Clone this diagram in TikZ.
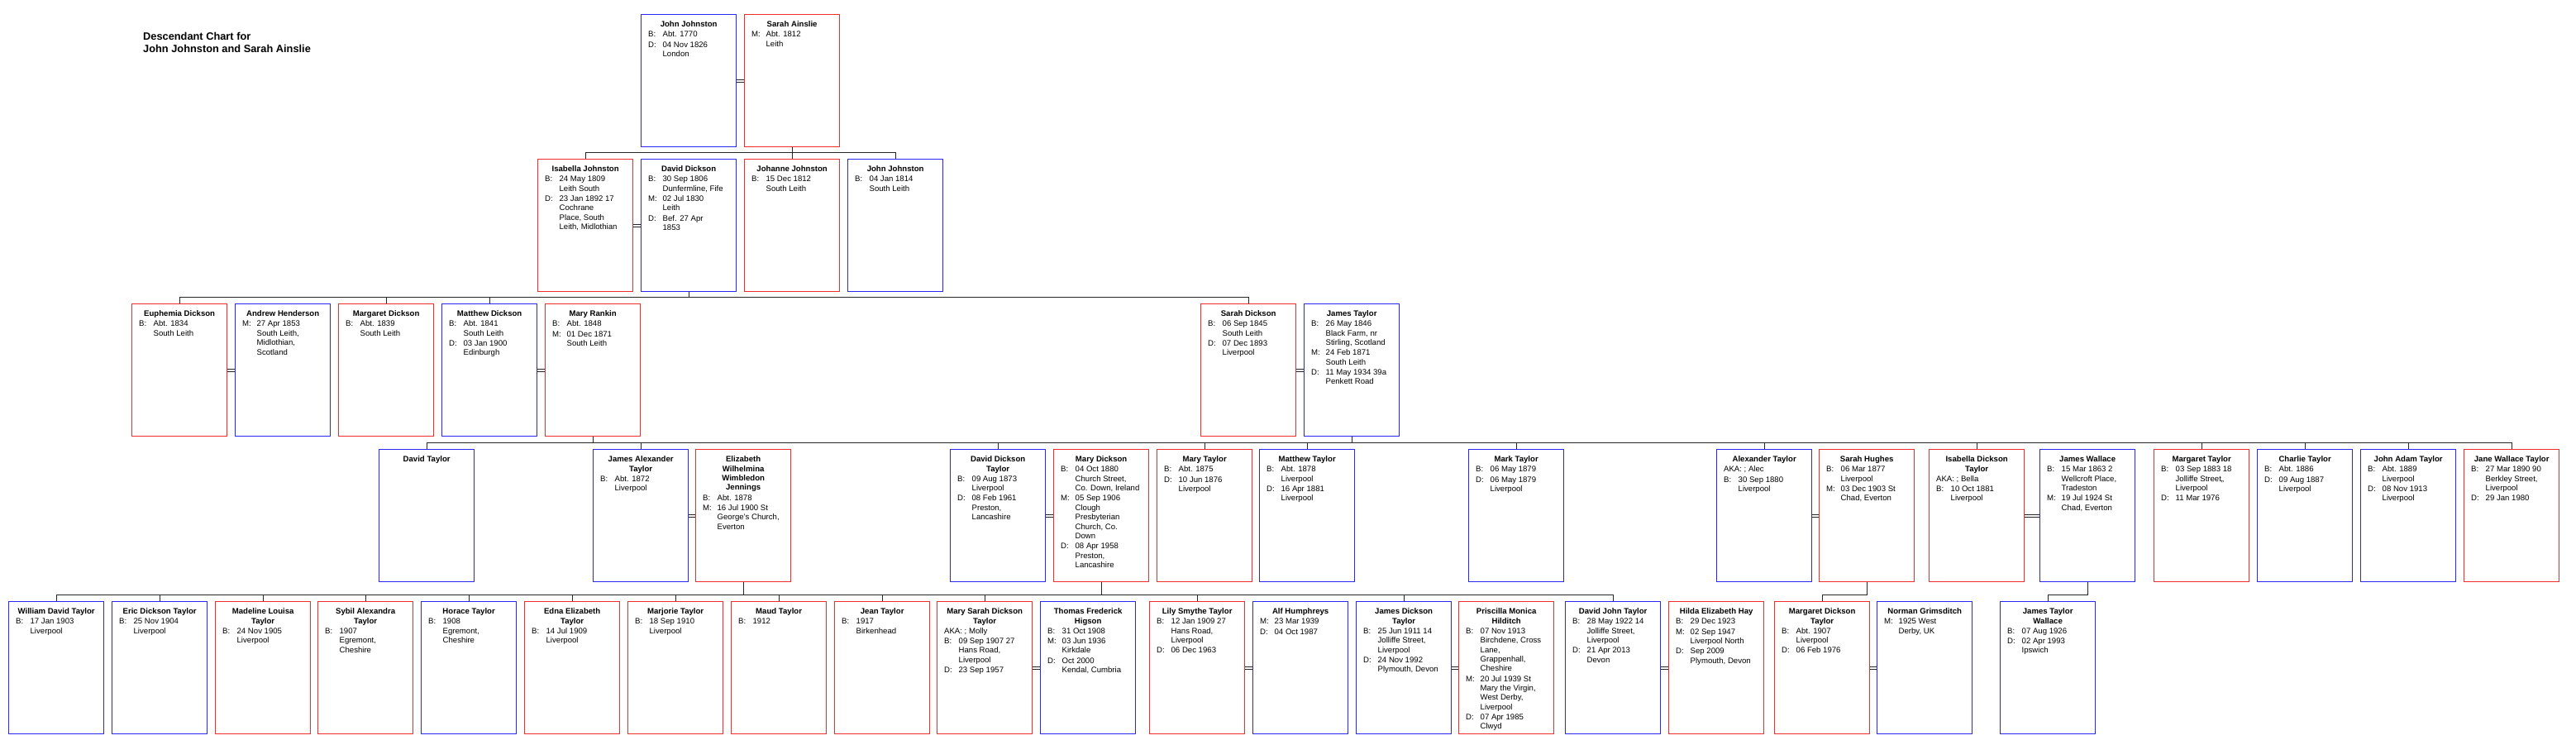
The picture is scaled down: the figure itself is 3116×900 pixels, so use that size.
\documentclass[tikz,border=0pt]{standalone}
\usepackage{fontspec}
\setmainfont{Liberation Sans}
\usepackage{xcolor}
\usepackage{tikz}
\definecolor{boxblue}{RGB}{40,40,240}
\definecolor{boxred}{RGB}{240,45,45}
\newcommand{\cardfont}{\fontsize{9.6pt}{11.4pt}\selectfont}
\newcommand{\card}[2]{%
  \begin{minipage}[t][160pt][t]{109pt}
    {\centering\bfseries\rule{0pt}{15pt}#1\par}
    \raggedright #2
  \end{minipage}}
\newcommand{\fact}[2]{\par\vspace{0.8pt}\noindent\hangindent=23pt\hangafter=1%
  \makebox[23pt][l]{\hspace{5.5pt}#1}#2}
\newcommand{\aka}[1]{\par\vspace{0.8pt}\noindent\hspace{5.5pt}AKA: #1}

\begin{document}
\begin{tikzpicture}[
  x=1pt, y=-1pt,
  man/.style={rectangle, draw=boxblue, line width=1.3pt,
    anchor=north west, inner xsep=3pt, inner ysep=0pt, font=\cardfont},
  woman/.style={man, draw=boxred},
  kin/.style={line width=1pt, black!85},
  tie/.style={line width=0.8pt, black!85}
]
\useasboundingbox (0,0) rectangle (3116,900);

% Title
\node[anchor=north west, inner sep=0pt, align=left,
      font=\fontsize{12.8pt}{15pt}\selectfont\bfseries] (title)
  at (173,39) {Descendant Chart for\\John Johnston and Sarah Ainslie};

% Generation 1
\node[man] (jjohnston) at (775,17)
  {\card{John Johnston}{\fact{B:}{Abt. 1770}\fact{D:}{04 Nov 1826\newline London}}};
\node[woman] (sainslie) at (900,17)
  {\card{Sarah Ainslie}{\fact{M:}{Abt. 1812\newline Leith}}};

% Generation 2
\node[woman] (ijohnston) at (650,192)
  {\card{Isabella Johnston}{\fact{B:}{24 May 1809\newline Leith South}
   \fact{D:}{23 Jan 1892 17\newline Cochrane\newline Place, South\newline Leith, Midlothian}}};
\node[man] (ddickson) at (775,192)
  {\card{David Dickson}{\fact{B:}{30 Sep 1806\newline Dunfermline, Fife}
   \fact{M:}{02 Jul 1830\newline Leith}\fact{D:}{Bef. 27 Apr\newline 1853}}};
\node[woman] (johanne) at (900,192)
  {\card{Johanne Johnston}{\fact{B:}{15 Dec 1812\newline South Leith}}};
\node[man] (jjohnstonjr) at (1025,192)
  {\card{John Johnston}{\fact{B:}{04 Jan 1814\newline South Leith}}};

% Generation 3
\node[woman] (euphemia) at (159,367)
  {\card{Euphemia Dickson}{\fact{B:}{Abt. 1834\newline South Leith}}};
\node[man] (ahenderson) at (284,367)
  {\card{Andrew Henderson}{\fact{M:}{27 Apr 1853\newline South Leith,\newline Midlothian,\newline Scotland}}};
\node[woman] (margaretd) at (409,367)
  {\card{Margaret Dickson}{\fact{B:}{Abt. 1839\newline South Leith}}};
\node[man] (matthewd) at (534,367)
  {\card{Matthew Dickson}{\fact{B:}{Abt. 1841\newline South Leith}
   \fact{D:}{03 Jan 1900\newline Edinburgh}}};
\node[woman] (mrankin) at (659,367)
  {\card{Mary Rankin}{\fact{B:}{Abt. 1848}\fact{M:}{01 Dec 1871\newline South Leith}}};
\node[woman] (sarahd) at (1452,367)
  {\card{Sarah Dickson}{\fact{B:}{06 Sep 1845\newline South Leith}
   \fact{D:}{07 Dec 1893\newline Liverpool}}};
\node[man] (jamest) at (1577,367)
  {\card{James Taylor}{\fact{B:}{26 May 1846\newline Black Farm, nr\newline Stirling, Scotland}
   \fact{M:}{24 Feb 1871\newline South Leith}\fact{D:}{11 May 1934 39a\newline Penkett Road}}};

% Generation 4
\node[man] (davidt) at (458,543) {\card{David Taylor}{}};
\node[man] (jamesat) at (717,543)
  {\card{James Alexander\\Taylor}{\fact{B:}{Abt. 1872\newline Liverpool}}};
\node[woman] (ejennings) at (841,543)
  {\card{Elizabeth\\Wilhelmina\\Wimbledon\\Jennings}{\fact{B:}{Abt. 1878}
   \fact{M:}{16 Jul 1900 St\newline George's Church,\newline Everton}}};
\node[man] (ddtaylor) at (1149,543)
  {\card{David Dickson\\Taylor}{\fact{B:}{09 Aug 1873\newline Liverpool}
   \fact{D:}{08 Feb 1961\newline Preston,\newline Lancashire}}};
\node[woman] (marydickson) at (1274,543)
  {\card{Mary Dickson}{\fact{B:}{04 Oct 1880\newline Church Street,\newline Co. Down, Ireland}
   \fact{M:}{05 Sep 1906\newline Clough\newline Presbyterian\newline Church, Co.\newline Down}
   \fact{D:}{08 Apr 1958\newline Preston,\newline Lancashire}}};
\node[woman] (maryt) at (1399,543)
  {\card{Mary Taylor}{\fact{B:}{Abt. 1875}\fact{D:}{10 Jun 1876\newline Liverpool}}};
\node[man] (matthewt) at (1523,543)
  {\card{Matthew Taylor}{\fact{B:}{Abt. 1878\newline Liverpool}
   \fact{D:}{16 Apr 1881\newline Liverpool}}};
\node[man] (markt) at (1776,543)
  {\card{Mark Taylor}{\fact{B:}{06 May 1879}\fact{D:}{06 May 1879\newline Liverpool}}};
\node[man] (alext) at (2076,543)
  {\card{Alexander Taylor}{\aka{; Alec}\fact{B:}{30 Sep 1880\newline Liverpool}}};
\node[woman] (shughes) at (2200,543)
  {\card{Sarah Hughes}{\fact{B:}{06 Mar 1877\newline Liverpool}
   \fact{M:}{03 Dec 1903 St\newline Chad, Everton}}};
\node[woman] (idtaylor) at (2333,543)
  {\card{Isabella Dickson\\Taylor}{\aka{; Bella}\fact{B:}{10 Oct 1881\newline Liverpool}}};
\node[man] (jwallace) at (2467,543)
  {\card{James Wallace}{\fact{B:}{15 Mar 1863 2\newline Wellcroft Place,\newline Tradeston}
   \fact{M:}{19 Jul 1924 St\newline Chad, Everton}}};
\node[woman] (margarett) at (2605,543)
  {\card{Margaret Taylor}{\fact{B:}{03 Sep 1883 18\newline Jolliffe Street,,\newline Liverpool}
   \fact{D:}{11 Mar 1976}}};
\node[man] (charliet) at (2730,543)
  {\card{Charlie Taylor}{\fact{B:}{Abt. 1886}\fact{D:}{09 Aug 1887\newline Liverpool}}};
\node[man] (johnat) at (2855,543)
  {\card{John Adam Taylor}{\fact{B:}{Abt. 1889\newline Liverpool}
   \fact{D:}{08 Nov 1913\newline Liverpool}}};
\node[woman] (janewt) at (2980,543)
  {\card{Jane Wallace Taylor}{\fact{B:}{27 Mar 1890 90\newline Berkley Street,\newline Liverpool}
   \fact{D:}{29 Jan 1980}}};

% Generation 5
\node[man] (wdtaylor) at (10,727)
  {\card{William David Taylor}{\fact{B:}{17 Jan 1903\newline Liverpool}}};
\node[man] (edtaylor) at (135,727)
  {\card{Eric Dickson Taylor}{\fact{B:}{25 Nov 1904\newline Liverpool}}};
\node[woman] (mltaylor) at (260,727)
  {\card{Madeline Louisa\\Taylor}{\fact{B:}{24 Nov 1905\newline Liverpool}}};
\node[woman] (sataylor) at (384,727)
  {\card{Sybil Alexandra\\Taylor}{\fact{B:}{1907\newline Egremont,\newline Cheshire}}};
\node[man] (horacet) at (509,727)
  {\card{Horace Taylor}{\fact{B:}{1908\newline Egremont,\newline Cheshire}}};
\node[woman] (eetaylor) at (634,727)
  {\card{Edna Elizabeth\\Taylor}{\fact{B:}{14 Jul 1909\newline Liverpool}}};
\node[woman] (marjoriet) at (759,727)
  {\card{Marjorie Taylor}{\fact{B:}{18 Sep 1910\newline Liverpool}}};
\node[woman] (maudt) at (884,727)
  {\card{Maud Taylor}{\fact{B:}{1912}}};
\node[woman] (jeant) at (1009,727)
  {\card{Jean Taylor}{\fact{B:}{1917\newline Birkenhead}}};
\node[woman] (msdtaylor) at (1133,727)
  {\card{Mary Sarah Dickson\\Taylor}{\aka{; Molly}
   \fact{B:}{09 Sep 1907 27\newline Hans Road,\newline Liverpool}\fact{D:}{23 Sep 1957}}};
\node[man] (tfhigson) at (1258,727)
  {\card{Thomas Frederick\\Higson}{\fact{B:}{31 Oct 1908}
   \fact{M:}{03 Jun 1936\newline Kirkdale}\fact{D:}{Oct 2000\newline Kendal, Cumbria}}};
\node[woman] (lstaylor) at (1390,727)
  {\card{Lily Smythe Taylor}{\fact{B:}{12 Jan 1909 27\newline Hans Road,\newline Liverpool}
   \fact{D:}{06 Dec 1963}}};
\node[man] (ahumphreys) at (1515,727)
  {\card{Alf Humphreys}{\fact{M:}{23 Mar 1939}\fact{D:}{04 Oct 1987}}};
\node[man] (jdtaylor) at (1640,727)
  {\card{James Dickson\\Taylor}{\fact{B:}{25 Jun 1911 14\newline Jolliffe Street,\newline Liverpool}
   \fact{D:}{24 Nov 1992\newline Plymouth, Devon}}};
\node[woman] (pmhilditch) at (1764,727)
  {\card{Priscilla Monica\\Hilditch}{\fact{B:}{07 Nov 1913\newline Birchdene, Cross\newline Lane,\newline Grappenhall,\newline Cheshire}
   \fact{M:}{20 Jul 1939 St\newline Mary the Virgin,\newline West Derby,\newline Liverpool}
   \fact{D:}{07 Apr 1985\newline Clwyd}}};
\node[man] (djtaylor) at (1893,727)
  {\card{David John Taylor}{\fact{B:}{28 May 1922 14\newline Jolliffe Street,\newline Liverpool}
   \fact{D:}{21 Apr 2013\newline Devon}}};
\node[woman] (ehay) at (2018,727)
  {\card{Hilda Elizabeth Hay}{\fact{B:}{29 Dec 1923}
   \fact{M:}{02 Sep 1947\newline Liverpool North}\fact{D:}{Sep 2009\newline Plymouth, Devon}}};
\node[woman] (mdtaylor) at (2146,727)
  {\card{Margaret Dickson\\Taylor}{\fact{B:}{Abt. 1907\newline Liverpool}\fact{D:}{06 Feb 1976}}};
\node[man] (ngrimsditch) at (2270,727)
  {\card{Norman Grimsditch}{\fact{M:}{1925 West\newline Derby, UK}}};
\node[man] (jtwallace) at (2419,727)
  {\card{James Taylor\\Wallace}{\fact{B:}{07 Aug 1926}\fact{D:}{02 Apr 1993\newline Ipswich}}};

% Marriages
\foreach \a/\b in {jjohnston/sainslie, ijohnston/ddickson, euphemia/ahenderson,
    matthewd/mrankin, sarahd/jamest, jamesat/ejennings, ddtaylor/marydickson,
    alext/shughes, idtaylor/jwallace, msdtaylor/tfhigson, lstaylor/ahumphreys,
    jdtaylor/pmhilditch, djtaylor/ehay, mdtaylor/ngrimsditch} {
  \draw[tie] ([yshift=1.6pt]\a.east) -- ([yshift=1.6pt]\b.west);
  \draw[tie] ([yshift=-1.6pt]\a.east) -- ([yshift=-1.6pt]\b.west);
}

% Family bars
\coordinate (bar1) at (0,184);
\coordinate (bar2) at (0,359);
\coordinate (bar3) at (0,535);
\coordinate (bar4) at (0,719);

% Generation 1 -> 2
\draw[kin] (sainslie.south) -- (sainslie.south |- bar1);
\draw[kin] (ijohnston.north |- bar1) -- (jjohnstonjr.north |- bar1);
\foreach \kid in {ijohnston, johanne, jjohnstonjr}
  \draw[kin] (\kid.north) -- (\kid.north |- bar1);

% Generation 2 -> 3
\draw[kin] (ddickson.south) -- (ddickson.south |- bar2);
\draw[kin] (euphemia.north |- bar2) -- (sarahd.north |- bar2);
\foreach \kid in {euphemia, margaretd, matthewd, sarahd}
  \draw[kin] (\kid.north) -- (\kid.north |- bar2);

% Generation 3 -> 4
\draw[kin] (mrankin.south) -- (mrankin.south |- bar3);
\draw[kin] (jamest.south) -- (jamest.south |- bar3);
\draw[kin] (davidt.north |- bar3) -- (janewt.north |- bar3);
\foreach \kid in {davidt, jamesat, ddtaylor, maryt, matthewt, markt, alext,
    idtaylor, margarett, charliet, johnat, janewt}
  \draw[kin] (\kid.north) -- (\kid.north |- bar3);

% Generation 4 -> 5
\draw[kin] (ejennings.south) -- (ejennings.south |- bar4);
\draw[kin] (marydickson.south) -- (marydickson.south |- bar4);
\draw[kin] (wdtaylor.north |- bar4) -- (djtaylor.north |- bar4);
\foreach \kid in {wdtaylor, edtaylor, mltaylor, sataylor, horacet, eetaylor,
    marjoriet, maudt, jeant, msdtaylor, lstaylor, jdtaylor, djtaylor}
  \draw[kin] (\kid.north) -- (\kid.north |- bar4);
\draw[kin] (shughes.south) |- (mdtaylor.north |- bar4) -- (mdtaylor.north);
\draw[kin] (jwallace.south) |- (jtwallace.north |- bar4) -- (jtwallace.north);
\end{tikzpicture}
\end{document}
